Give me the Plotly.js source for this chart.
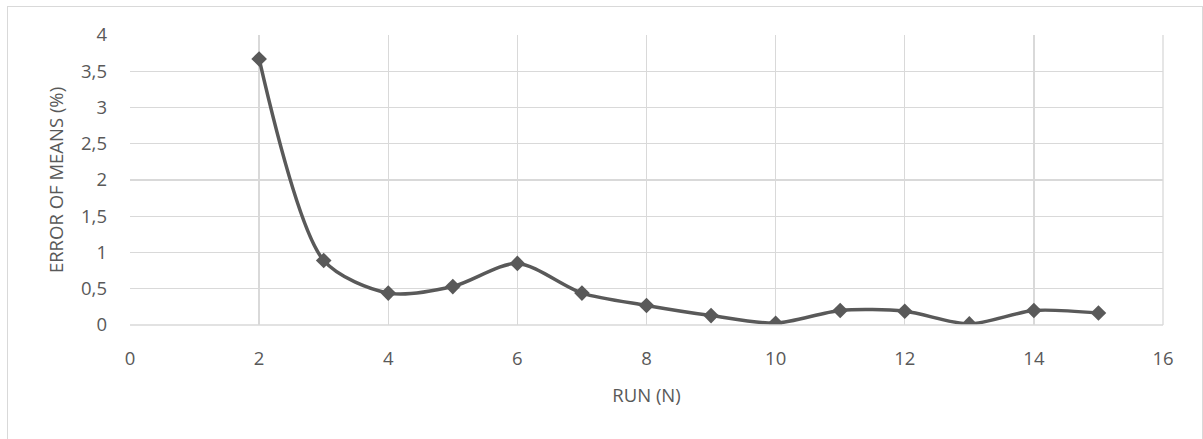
<!DOCTYPE html>
<html>
<head>
<meta charset="utf-8">
<script src="https://cdn.plot.ly/plotly-3.0.1.min.js"></script>
<style>
html,body{margin:0;padding:0;background:#fff;overflow:hidden;}
#wrap{position:relative;width:1203px;height:439px;overflow:hidden;}
#frame{position:absolute;left:7px;top:6px;width:1196px;height:440px;border:1px solid #d9d9d9;box-sizing:border-box;pointer-events:none;}
#chart{position:absolute;left:0;top:0;width:1203px;height:439px;}
</style>
</head>
<body>
<div id="wrap">
<div id="chart"></div>
<div id="frame"></div>
</div>
<script>
const runs = [2, 3, 4, 5, 6, 7, 8, 9, 10, 11, 12, 13, 14, 15];
const errorOfMeans = [3.67, 0.89, 0.44, 0.53, 0.85, 0.44, 0.27, 0.13, 0.025, 0.2, 0.19, 0.015, 0.2, 0.165];
const xTicks = [0, 2, 4, 6, 8, 10, 12, 14, 16];
const yTicks = [0, 0.5, 1, 1.5, 2, 2.5, 3, 3.5, 4];
const xTitle = 'RUN (N)';
const yTitle = 'ERROR OF MEANS (%)';

const fontFam = 'Open Sans, Liberation Sans, sans-serif';
const grey = '#595959';
const fs = 18.5;

Plotly.newPlot('chart', [{
  x: runs,
  y: errorOfMeans,
  type: 'scatter',
  mode: 'lines+markers',
  line: {color: grey, width: 3.5, shape: 'spline', smoothing: 0.8},
  marker: {symbol: 'diamond', size: 12, color: grey},
  hoverinfo: 'x+y'
}], {
  width: 1203,
  height: 439,
  margin: {l: 130, r: 40, t: 35, b: 114},
  paper_bgcolor: 'rgba(0,0,0,0)',
  plot_bgcolor: '#fff',
  separators: ',.',
  showlegend: false,
  font: {family: fontFam, color: grey, size: fs},
  xaxis: {
    range: [0, 16],
    tickvals: xTicks,
    showgrid: true,
    gridcolor: '#d9d9d9',
    gridwidth: 1.3,
    zeroline: false,
    showline: false,
    ticks: '',
    ticklabelstandoff: 20,
    tickfont: {family: fontFam, size: fs, color: grey},
    title: {text: xTitle, font: {family: fontFam, size: fs, color: grey}, standoff: 20}
  },
  yaxis: {
    range: [0, 4],
    tickvals: yTicks,
    showgrid: true,
    gridcolor: '#d9d9d9',
    gridwidth: 1.3,
    zeroline: false,
    showline: false,
    ticks: '',
    ticklabelstandoff: 22,
    tickfont: {family: fontFam, size: fs, color: grey},
    title: {text: yTitle, font: {family: fontFam, size: fs, color: grey}, standoff: 12}
  },
  shapes: [
    {type: 'line', xref: 'paper', yref: 'paper', x0: 1, x1: 1, y0: 0, y1: 1, line: {color: '#d9d9d9', width: 1.3}},
    {type: 'line', xref: 'paper', yref: 'paper', x0: 0, x1: 1, y0: 0, y1: 0, line: {color: '#d9d9d9', width: 1.3}}
  ]
}, {displayModeBar: false, staticPlot: true});
</script>
</body>
</html>
